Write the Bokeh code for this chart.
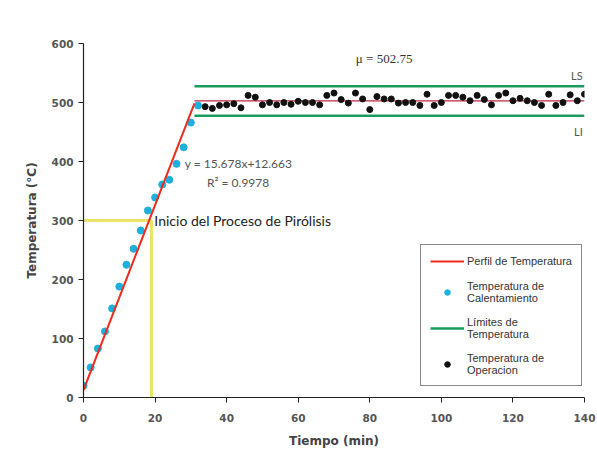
from bokeh.plotting import figure
from bokeh.models import Legend, LegendItem, Label, FixedTicker, Range1d
from bokeh.embed import file_html
from bokeh.resources import INLINE

# ---- data ----
t_heat = [0, 2, 4, 6, 8, 10, 12, 14, 16, 18, 20, 22, 24, 26, 28, 30, 32]
T_heat = [20, 51, 83, 112, 151, 188, 225, 252, 283, 317, 339, 361, 369, 396, 424, 466, 495]

t_op = list(range(34, 141, 2))
T_op = [493, 490, 495, 496, 498, 491, 512, 509, 496, 500, 496, 500, 497, 502, 500, 500, 496,
        512, 516, 505, 499, 516, 506, 488, 510, 506, 506, 499, 500, 500, 495, 514, 495, 500,
        512, 512, 509, 503, 512, 505, 496, 512, 516, 503, 507, 503, 500, 495, 514, 495, 500,
        513, 503, 514]

slope = 15.678
intercept = 12.663
fit_x = [0, 31]
fit_y = [intercept + slope * x for x in fit_x]

mu = 502.75
LS = 527.75
LI = 477.75
lim_x = [31, 140]
mean_x = [31, 140]

t_pirolisis = 19
T_pirolisis = 300

x_ticks = [0, 20, 40, 60, 80, 100, 120, 140]
y_ticks = [0, 100, 200, 300, 400, 500, 600]

# ---- figure ----
p = figure(width=597, height=453, output_backend="svg", toolbar_location=None,
           x_range=Range1d(0, 140), y_range=Range1d(0, 600),
           min_border_left=83, min_border_right=13, min_border_top=43, min_border_bottom=56)
p.outline_line_color = None
p.grid.visible = False
p.background_fill_color = "white"

for ax in (p.xaxis[0], p.yaxis[0]):
    ax.axis_line_color = "#222222"
    ax.axis_line_width = 1.2
    ax.major_tick_line_color = "#222222"
    ax.major_tick_out = 5
    ax.major_tick_in = 0
    ax.minor_tick_line_color = None
    ax.major_label_text_font = "DejaVu Sans"
    ax.major_label_text_font_style = "bold"
    ax.major_label_text_font_size = "10.5px"
    ax.major_label_text_color = "#555555"
    ax.axis_label_text_font = "DejaVu Sans"
    ax.axis_label_text_font_style = "bold"
    ax.axis_label_text_font_size = "12px"
    ax.axis_label_text_color = "#444444"

p.xaxis.ticker = FixedTicker(ticks=x_ticks)
p.yaxis.ticker = FixedTicker(ticks=y_ticks)
p.xaxis.axis_label = "Tiempo (min)"
p.yaxis.axis_label = "Temperatura (°C)"
p.xaxis.major_label_standoff = 11
p.xaxis.axis_label_standoff = 9
p.yaxis.axis_label_standoff = 10

# yellow guide lines
p.line([0, t_pirolisis], [T_pirolisis, T_pirolisis], line_color="#ece36a", line_width=3)
p.line([t_pirolisis, t_pirolisis], [0, T_pirolisis], line_color="#ece36a", line_width=3)

# limits
r_ls = p.line(lim_x, [LS, LS], line_color="#1a9b5c", line_width=2.5)
p.line(lim_x, [LI, LI], line_color="#1a9b5c", line_width=2.5)

# mean line
p.line(mean_x, [mu, mu], line_color="#c0263f", line_width=1.2)

# heating points
r_heat = p.scatter(t_heat, T_heat, size=7, color="#1cb0dc")
# fit line
r_fit = p.line(fit_x, fit_y, line_color="#ee2a1f", line_width=2)
# operation points
r_op = p.scatter(t_op, T_op, size=6, color="#111111")

# texts
def lab(x, y, txt, size, font="Lato", color="#444444", anchor="left", baseline="middle", style="normal"):
    p.add_layout(Label(x=x, y=y, text=txt, text_font=font, text_font_size=size,
                       text_color=color, text_align=anchor, text_baseline=baseline,
                       text_font_style=style))

lab(84, 575, "μ = 502.75", "13px", font="Liberation Serif", color="#333333", anchor="center")
lab(139.5, 546, "LS", "11px", font="Lato", color="#555555", anchor="right")
lab(139.5, 451, "LI", "11px", font="Lato", color="#555555", anchor="right")
lab(28.3, 397, "y = 15.678x+12.663", "12px", font="Lato", color="#555555")
lab(34.5, 364, "R² = 0.9978", "12px", font="Lato", color="#555555")
lab(19.8, 300, "Inicio del Proceso de Pirólisis", "14px", font="Lato", color="#222222")

legend = Legend(items=[
    LegendItem(label="Perfil de Temperatura", renderers=[r_fit]),
    LegendItem(label="Temperatura de\nCalentamiento", renderers=[r_heat]),
    LegendItem(label="Límites de\nTemperatura", renderers=[r_ls]),
    LegendItem(label="Temperatura de\nOperacion", renderers=[r_op]),
], location=(337, 11))
legend.border_line_color = "#111111"
legend.border_line_width = 1
legend.background_fill_alpha = 1
legend.label_text_font = "Liberation Sans"
legend.label_text_font_size = "11px"
legend.label_text_color = "#333333"
legend.glyph_width = 34
legend.glyph_height = 14
legend.label_height = 14
legend.spacing = 12
legend.padding = 9
legend.margin = 0
legend.label_standoff = 3
legend.label_text_line_height = 1.45
p.add_layout(legend)

open("out.html", "w").write(file_html(p, INLINE))
